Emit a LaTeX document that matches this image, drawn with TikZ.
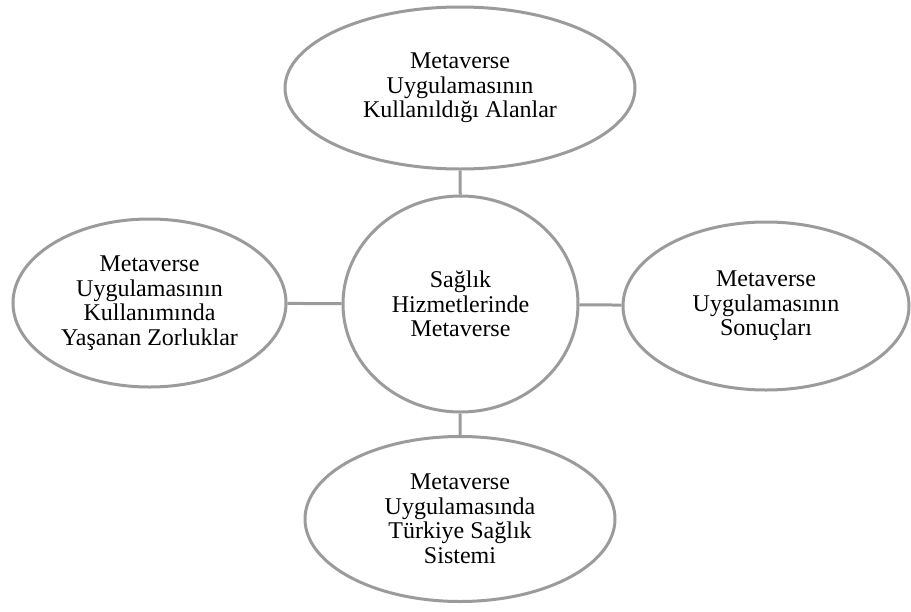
\documentclass[tikz,border=0pt]{standalone}
\usepackage{fontspec}
\setmainfont{Liberation Serif}
\usetikzlibrary{shapes.geometric}
\definecolor{linegray}{RGB}{155,155,155}
\begin{document}
\begin{tikzpicture}[x=1pt,y=-1pt,
  bubble/.style={ellipse, draw=linegray, line width=3pt, fill=white, align=center, inner sep=0pt,
    font=\fontsize{24}{24.5}\selectfont},
  link/.style={draw=linegray, line width=3pt}]
\useasboundingbox (0,0) rectangle (911,611);
\node[bubble, minimum width=235pt, minimum height=216pt] (c) at (460.5,304) {Sağlık\\Hizmetlerinde\\Metaverse};
\node[bubble, minimum width=350pt, minimum height=162pt] (t) at (460,88) {Metaverse\\Uygulamasının\\Kullanıldığı Alanlar};
\node[bubble, minimum width=273pt, minimum height=168pt] (l) at (149.5,303) {Metaverse\\Uygulamasının\\Kullanımında\\Yaşanan Zorluklar};
\node[bubble, minimum width=286pt, minimum height=168pt] (r) at (766,306) {Metaverse\\Uygulamasının\\Sonuçları};
\node[bubble, minimum width=310pt, minimum height=165pt] (b) at (460,519) {Metaverse\\Uygulamasında\\Türkiye Sağlık\\Sistemi};
\draw[link] (t) -- (c);
\draw[link] (l) -- (c);
\draw[link] (c) -- (r);
\draw[link] (c) -- (b);
\end{tikzpicture}
\end{document}
